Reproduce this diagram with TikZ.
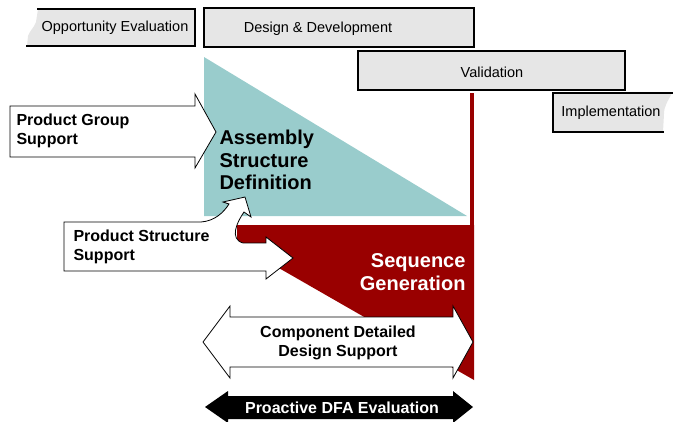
\documentclass[tikz,border=0pt]{standalone}
\usepackage{fontspec}
\setmainfont{Liberation Sans}
\usepackage{xcolor}
\definecolor{phasegrey}{HTML}{E6E6E6}
\definecolor{asmteal}{HTML}{99CCCC}
\definecolor{seqred}{HTML}{990000}

\begin{document}
\begin{tikzpicture}[x=1pt, y=-1pt,
  phase/.style={fill=phasegrey},
  rim/.style={line width=1.8pt, line cap=rect},
  blockarrow/.style={draw, fill=white, line width=0.8pt, line join=miter},
  phaselabel/.style={font=\fontsize{14.5}{17}\selectfont},
  supportlabel/.style={font=\fontsize{16}{19}\bfseries, align=left},
  stagelabel/.style={font=\fontsize{20}{22.5}\bfseries}]
\useasboundingbox (0,0) rectangle (675,421);

% wedges
\fill[asmteal] (204,57) -- (467,216) -- (204,216) -- cycle;
\fill[seqred] (470,93) rectangle (474,226);
\fill[seqred] (237,225) -- (474,225) -- (474,380) -- (237,244) -- cycle;

% phases
\fill[phase] (38,9) -- (195,9) -- (195,46) -- (27,46) -- (28,36)
  .. controls (30,30) and (34,28) .. (36,22) -- cycle;
\draw[rim] (38,9) -- (195,9) -- (195,46) -- (27,46);
\node[phaselabel] (opp) at (115,28) {Opportunity Evaluation};

\draw[phase, rim] (204,8) rectangle (474,47);
\node[phaselabel] (dd) at (318,29) {Design \& Development};

\draw[phase, rim] (358,51) rectangle (625,90);
\node[phaselabel] (val) at (492,72) {Validation};

\fill[phase] (553,93) -- (672,93) .. controls (668,101) and (664,106) .. (664,114)
  -- (663,132) -- (553,132) -- cycle;
\draw[rim] (672,93) -- (553,93) -- (553,132) -- (663,132);
\node[phaselabel] (impl) at (611,113) {Implementation};

% support arrows
\draw[blockarrow] (10,106) -- (195,106) -- (195,94) -- (216,132) -- (195,168)
  -- (195,157) -- (10,157) -- cycle;
\draw[blockarrow] (64,222) -- (201,222) .. controls (215,221) and (224,212) .. (229,204)
  -- (223,202) -- (245,197) -- (251,217) -- (244,212)
  .. controls (237,222) and (229,239) .. (243,243)
  -- (266,243) -- (266,237) -- (293,258) -- (266,279) -- (266,271) -- (64,271) -- cycle;
\draw[blockarrow] (203,342) -- (230,306) -- (230,317) -- (453,317) -- (453,306)
  -- (473,342) -- (453,378) -- (453,367) -- (230,367) -- (230,378) -- cycle;
\fill (205,407) -- (228,391) -- (228,396) -- (453,396) -- (453,391) -- (473,407)
  -- (453,423) -- (453,419) -- (228,419) -- (228,423) -- cycle;

% labels
\node[supportlabel, anchor=west] (pg) at (13,131) {Product Group\\Support};
\node[stagelabel, align=left, anchor=west] (asd) at (216,160) {Assembly\\Structure\\Definition};
\node[supportlabel, anchor=west] (ps) at (70,247) {Product Structure\\Support};
\node[stagelabel, align=right, anchor=east, text=white] (sg) at (469,272) {Sequence\\Generation};
\node[supportlabel, align=center] (cdd) at (338,343) {Component Detailed\\Design Support};
\node[supportlabel, text=white] (dfa) at (342,408) {Proactive DFA Evaluation};
\end{tikzpicture}
\end{document}
